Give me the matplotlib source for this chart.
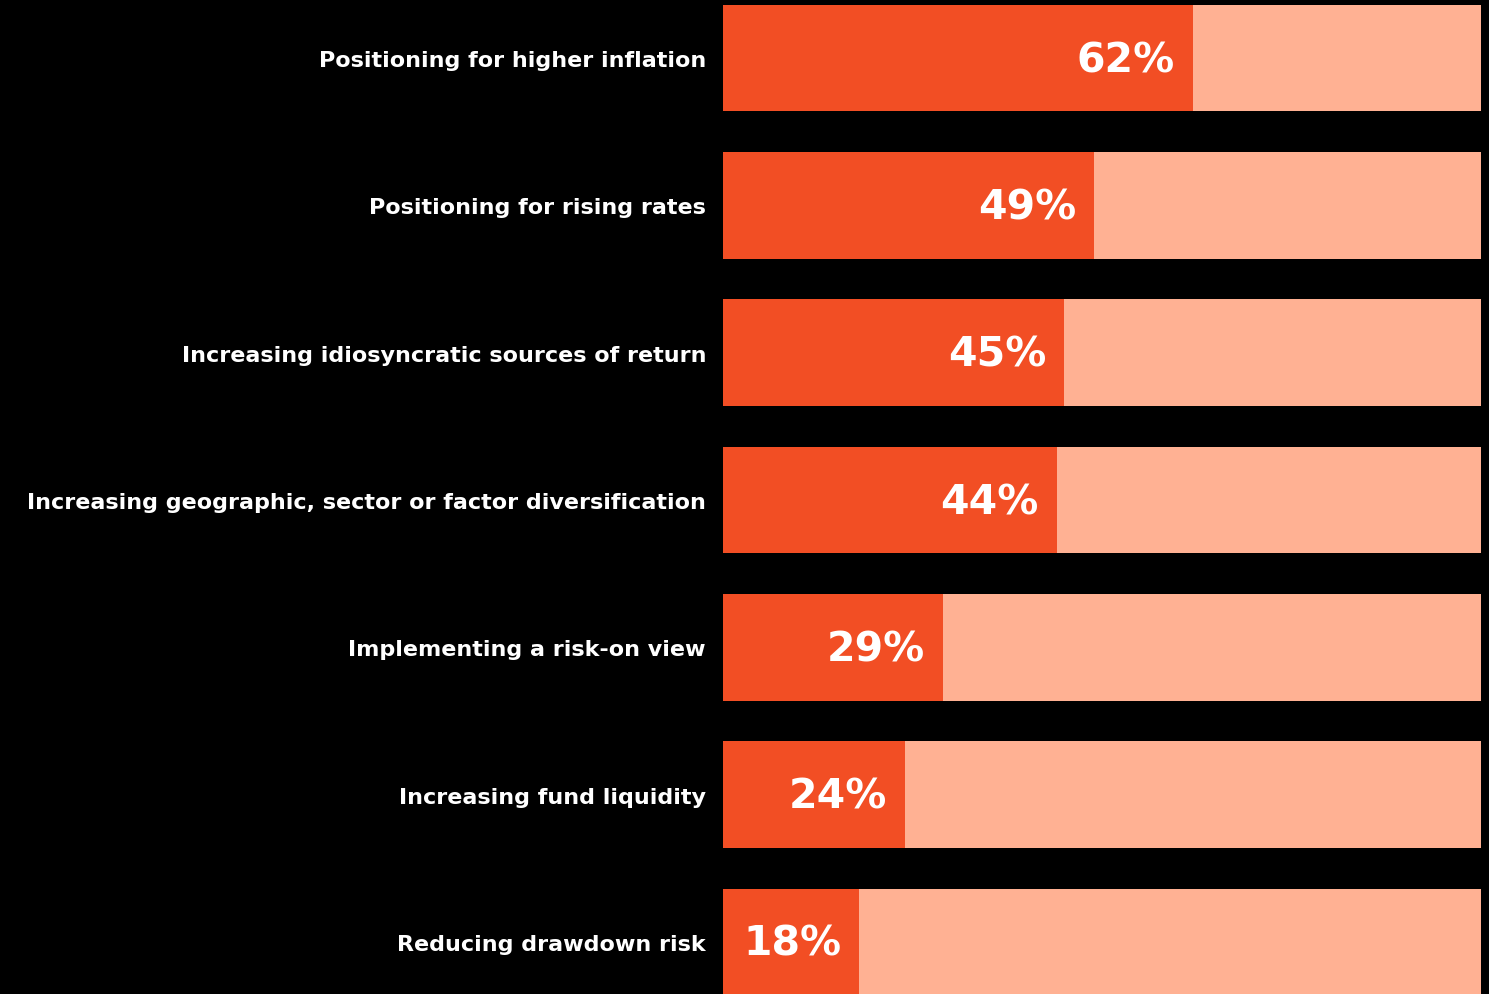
import matplotlib
matplotlib.use("Agg")
import matplotlib.pyplot as plt
from matplotlib.transforms import ScaledTranslation
from matplotlib.font_manager import FontProperties

categories = [
    "Positioning for higher inflation",
    "Positioning for rising rates",
    "Increasing idiosyncratic sources of return",
    "Increasing geographic, sector or factor diversification",
    "Implementing a risk-on view",
    "Increasing fund liquidity",
    "Reducing drawdown risk",
]
values = [62, 49, 45, 44, 29, 24, 18]
total = 100

fill_color = "#F24E24"
bg_color = "#FFB193"

W, H = 1489, 994
fig = plt.figure(figsize=(W / 100, H / 100), dpi=100, facecolor="black")
ax = fig.add_axes([723 / W, 0, 758 / W, 1])
ax.set_facecolor("black")

ypos = list(range(len(categories)))
bar_h = 0.726
ax.barh(ypos, [total] * len(values), height=bar_h, color=bg_color, zorder=1)
ax.barh(ypos, values, height=bar_h, color=fill_color, zorder=2)

ax.set_xlim(0, total)
ax.set_ylim(6 + 52 / 147.33, -58 / 147.33)
for s in ax.spines.values():
    s.set_visible(False)
ax.set_xticks([])
ax.set_yticks([])

lab_fp = FontProperties(family=["DejaVu Sans"], weight="bold", size=16)
val_fp = FontProperties(family=["DejaVu Sans"], weight="bold", size=29.5)

lab_off = ScaledTranslation(-17 / 100, -3 / 100, fig.dpi_scale_trans)
val_off = ScaledTranslation(-18 / 100, -3 / 100, fig.dpi_scale_trans)
for y, cat, v in zip(ypos, categories, values):
    ax.text(0, y, cat, ha="right", va="center", color="white",
            fontproperties=lab_fp,
            transform=ax.transData + lab_off, clip_on=False)
    ax.text(v, y, f"{v}%", ha="right", va="center", color="white",
            fontproperties=val_fp,
            transform=ax.transData + val_off, clip_on=False)

fig.savefig("out.png", dpi=100, facecolor="black")
